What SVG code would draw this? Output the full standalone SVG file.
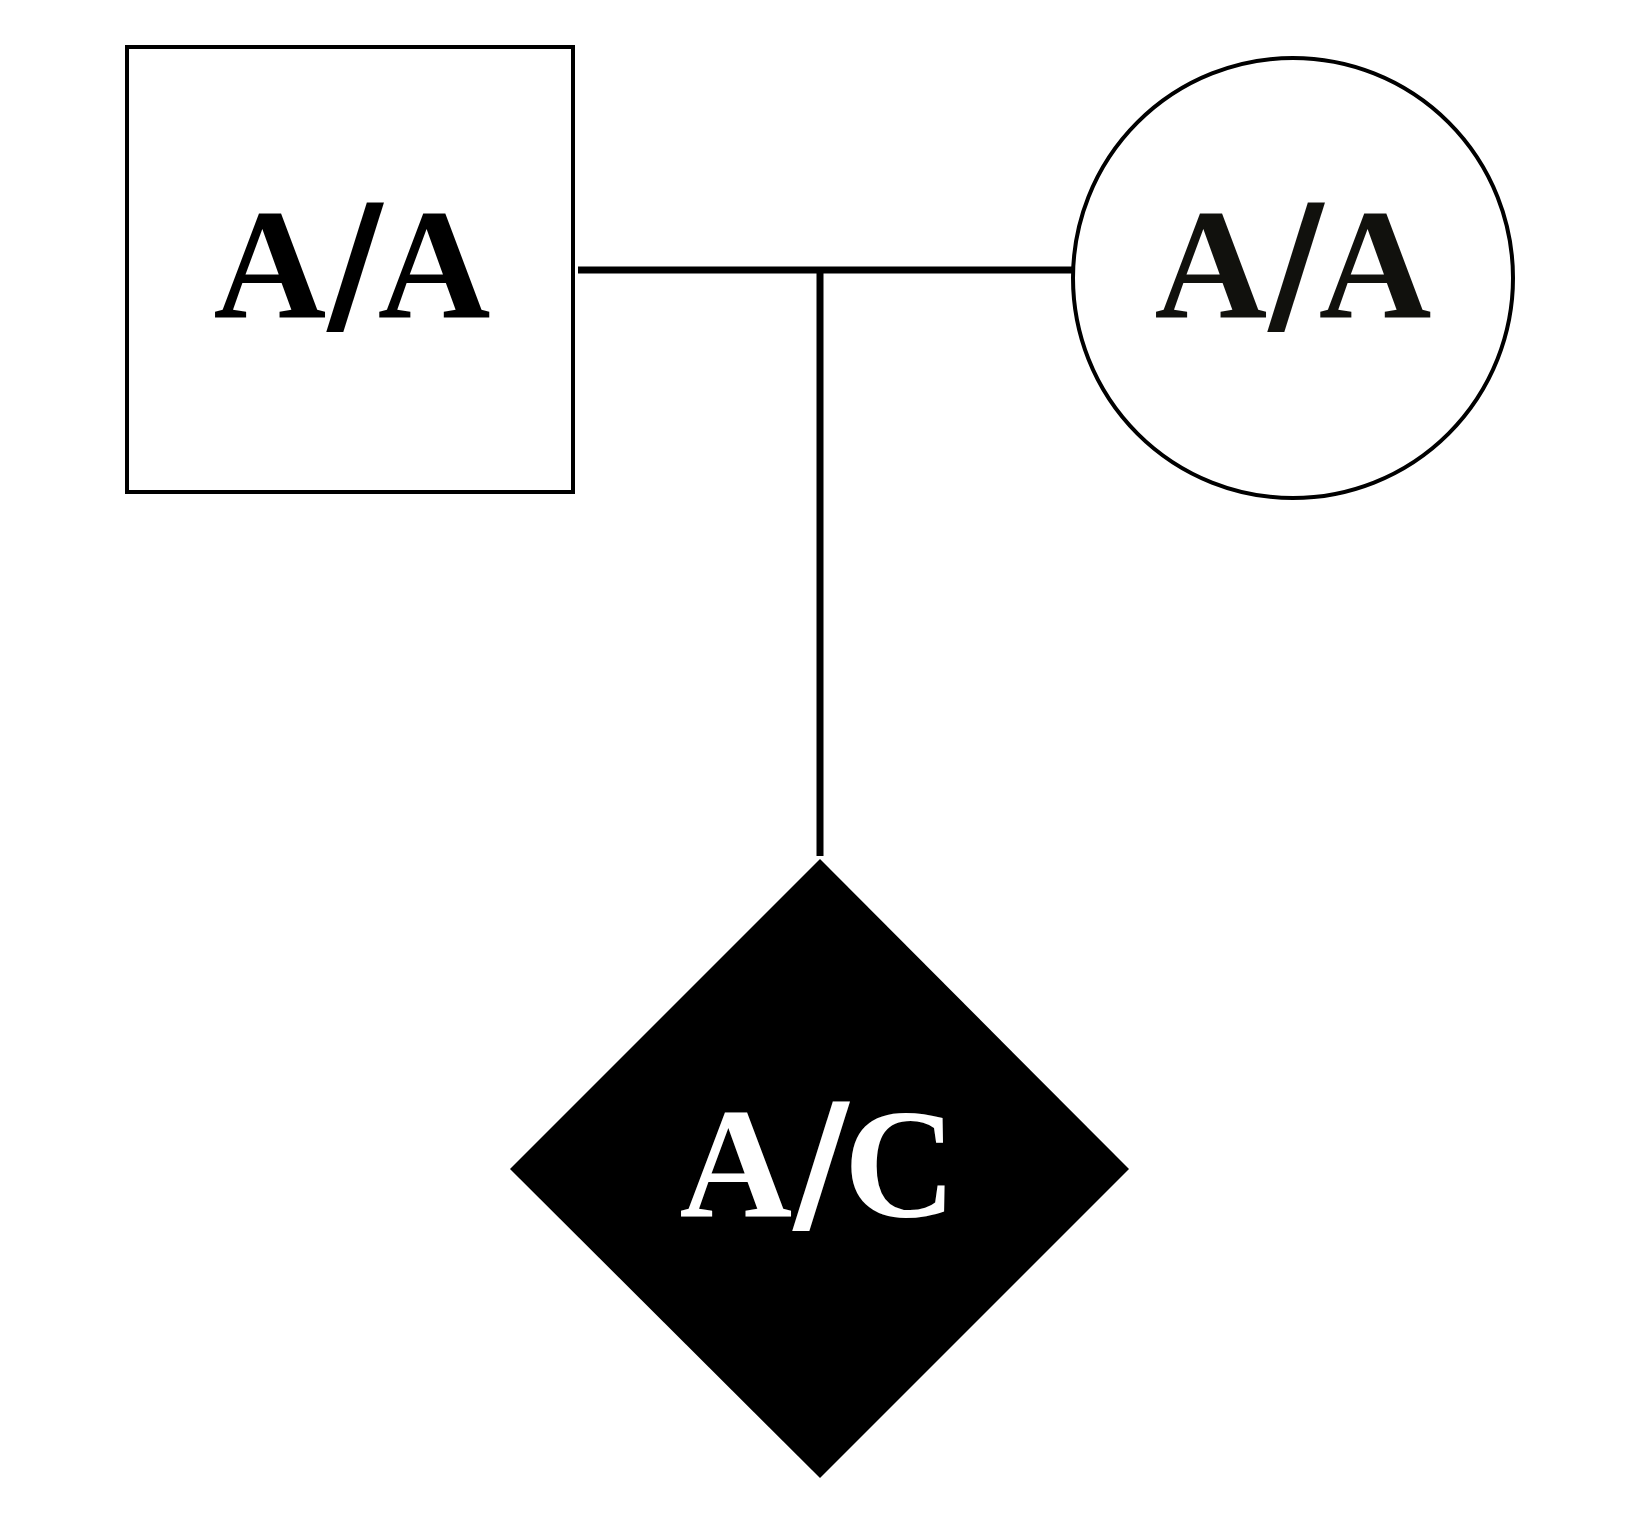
<svg xmlns="http://www.w3.org/2000/svg" width="1643" height="1535" viewBox="0 0 1643 1535">
<style>
.lbl{font-family:"Liberation Serif","Times New Roman",serif;font-weight:bold;font-size:156px;text-anchor:middle}
.sl{font-family:"DejaVu Serif",serif;font-weight:bold;font-size:158px;letter-spacing:-6px}
.shape{fill:#fff;stroke:#000;stroke-width:4}
.conn{stroke:#000;stroke-width:7;fill:none}
</style>
<rect width="1643" height="1535" fill="#fff"/>
<g id="connectors">
<line class="conn" x1="578" y1="270" x2="1073" y2="270"/>
<line class="conn" x1="820" y1="270" x2="820" y2="856"/>
</g>
<g id="father">
<rect class="shape" x="127" y="47" width="446" height="445"/>
<text class="lbl" x="352" y="317" fill="#000">A<tspan class="sl">/</tspan>A</text>
</g>
<g id="mother">
<ellipse class="shape" cx="1293" cy="278" rx="220" ry="220"/>
<text class="lbl" x="1293" y="317" fill="#11110d">A<tspan class="sl">/</tspan>A</text>
</g>
<g id="child">
<polygon points="820,859 1129,1169 820,1478 510,1169" fill="#000"/>
<text class="lbl" x="818" y="1216" fill="#fff">A<tspan class="sl">/</tspan>C</text>
</g>
</svg>
